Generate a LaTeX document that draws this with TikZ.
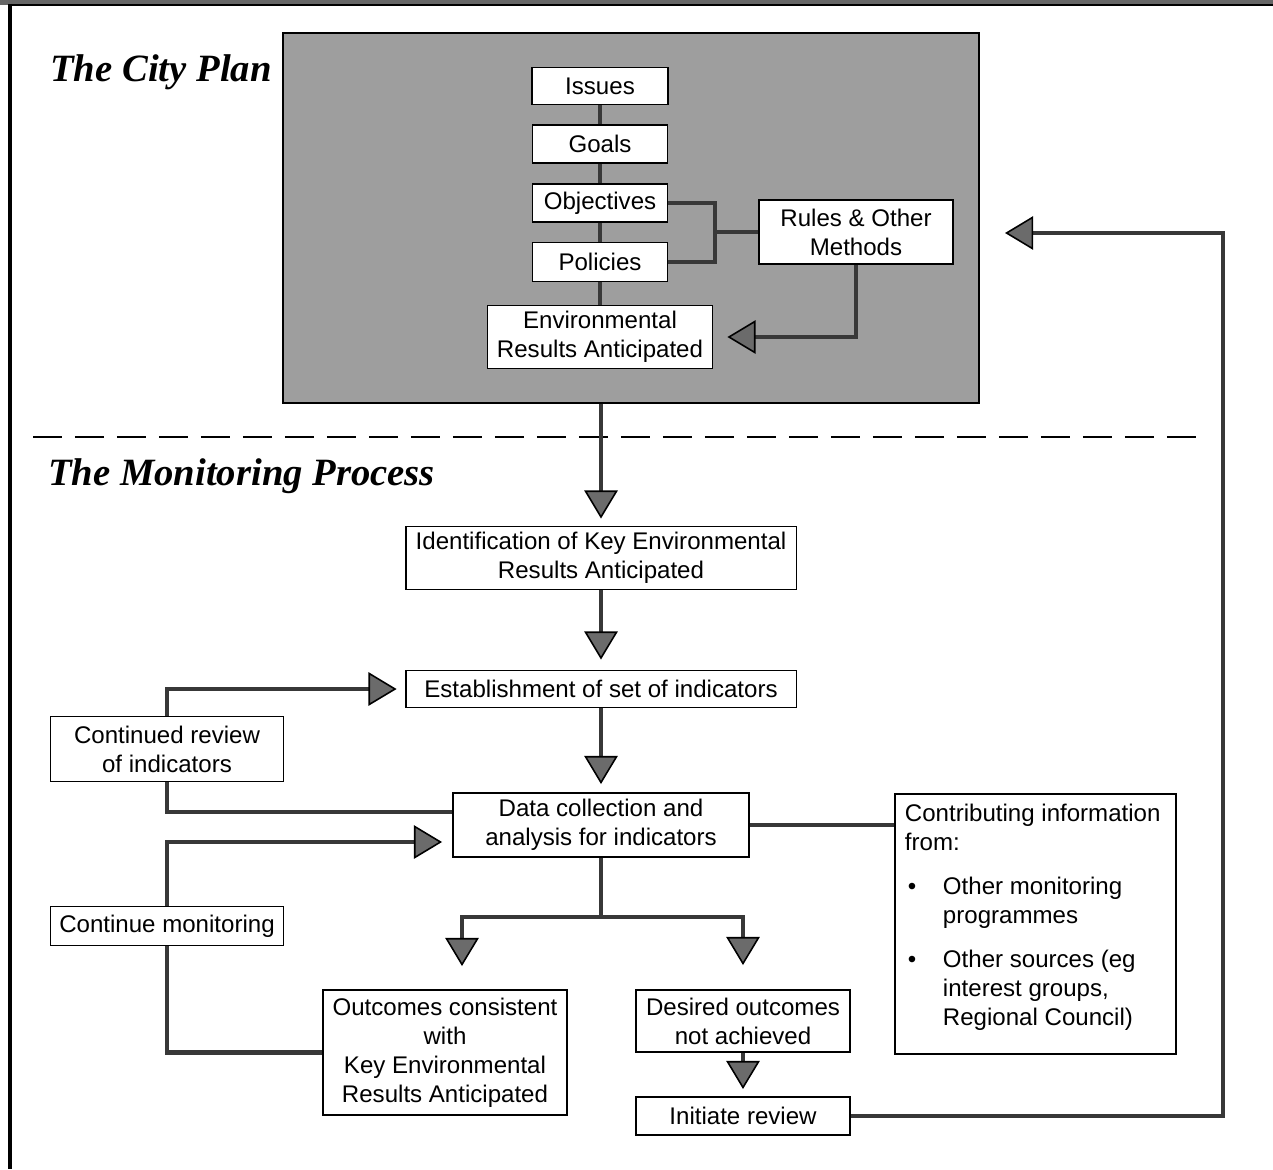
\documentclass[tikz,border=0pt]{standalone}
\usepackage{fontspec}
\setmainfont{Liberation Sans}
\newfontfamily\titlefont{Liberation Serif}
\usepackage{tikz}
\usetikzlibrary{arrows.meta,positioning}

\tikzset{
  box/.style={draw, fill=white, line width=1.1pt, align=center, inner sep=0pt,
    font=\fontsize{13.7}{16.5}\selectfont},
  link/.style={draw=black!78, line width=2.8pt},
  flow/.style={link, -{Triangle[length=16pt,width=19pt,color=black,fill=black!58,line width=0.9pt]}},
  heading/.style={anchor=base west, inner sep=0pt,
    font=\titlefont\bfseries\itshape\fontsize{22}{26}\selectfont}
}

\begin{document}
\begin{tikzpicture}[x=0.02cm,y=-0.02cm]
\useasboundingbox (0,0) rectangle (1273,1169);
\fill [white] (0,0) rectangle (1273,1169);
\fill [black!60] (0,0) rectangle (1273,5);
\draw [line width=1pt] (10,5) -- (1273,5);
\draw [line width=2.3pt] (10,4) -- (10,1169);

\node (plan) at (631,218) [draw, fill=black!38, line width=0.8pt, inner sep=0pt,
  minimum width=13.92cm, minimum height=7.4cm] {};
\node (cityplan) at (50,82) [heading] {The City Plan};
\node (monitoring) at (48,485) [heading] {The Monitoring Process};
\draw [line width=1.4pt, dash pattern=on 0.58cm off 0.26cm] (33,437) -- (1200,437);

\node (issues) at (600,86) [box, minimum width=2.72cm, minimum height=0.74cm] {Issues};
\node (goals) at (600,144) [box, minimum width=2.7cm, minimum height=0.76cm] {Goals};
\node (objectives) at (600,203) [box, minimum width=2.7cm, minimum height=0.76cm] {Objectives};
\node (policies) at (600,262) [box, minimum width=2.7cm, minimum height=0.78cm] {Policies};
\node (envres) at (600,337) [box, minimum width=4.5cm, minimum height=1.26cm] {Environmental\\Results Anticipated};
\node (rules) at (856,232) [box, minimum width=3.88cm, minimum height=1.28cm] {Rules \& Other\\Methods};
\coordinate (fork) at (715,232);

\node (ident) at (601,558) [box, minimum width=7.82cm, minimum height=1.26cm] {Identification of Key Environmental\\Results Anticipated};
\node (establish) at (601,689) [box, minimum width=7.82cm, minimum height=0.74cm] {Establishment of set of indicators};
\node (data) at (601,825) [box, minimum width=5.92cm, minimum height=1.28cm] {Data collection and\\analysis for indicators};
\node (review) at (167,749) [box, minimum width=4.66cm, minimum height=1.3cm] {Continued review\\of indicators};
\node (contmon) at (167,926) [box, minimum width=4.66cm, minimum height=0.78cm] {Continue monitoring};
\node (contrib) at (894,793) [box, anchor=north west, align=left, inner sep=0.2cm] {\parbox[c][4.8cm][t]{5.22cm}{Contributing information\\
from:\\[8.5pt]
\makebox[0.76cm][l]{\hspace{0.06cm}\textbullet}Other monitoring\\
\hspace*{0.76cm}programmes\\[8.5pt]
\makebox[0.76cm][l]{\hspace{0.06cm}\textbullet}Other sources (eg\\
\hspace*{0.76cm}interest groups,\\
\hspace*{0.76cm}Regional Council)}};
\coordinate (split) at (601,917);
\node (outcomes) at (445,1052.5) [box, minimum width=4.88cm, minimum height=2.5cm] {Outcomes consistent\\with\\Key Environmental\\Results Anticipated};
\node (desired) at (743,1021) [box, minimum width=4.28cm, minimum height=1.24cm] {Desired outcomes\\not achieved};
\node (initiate) at (743,1116) [box, minimum width=4.28cm, minimum height=0.76cm] {Initiate review};
\coordinate (rail) at (1223,233);
\coordinate (ret) at (1005,233);

\draw [link] (issues.south) -- (goals.north);
\draw [link] (goals.south) -- (objectives.north);
\draw [link] (objectives.south) -- (policies.north);
\draw [link] (policies.south) -- (envres.north);
\draw [link] (objectives.east) -| (fork) |- (policies.east);
\draw [link] (fork) -- (rules.west);
\draw [flow] (rules.south) |- ([xshift=0.28cm]envres.east);

\draw [flow] (plan.south -| ident.north) -- ([yshift=0.14cm]ident.north);
\draw [flow] (ident.south) -- ([yshift=0.2cm]establish.north);
\draw [flow] (establish.south) -- ([yshift=0.16cm]data.north);
\draw [flow] (review.north) |- ([xshift=-0.16cm]establish.west);
\draw [link] (review.south) |- ([yshift=0.26cm]data.west);
\draw [flow] (contmon.north) |- ([xshift=-0.2cm,yshift=-0.34cm]data.west);
\draw [link] (contmon.south) |- (outcomes.west);
\draw [link] (data.east) -- (data.east -| contrib.west);
\draw [link] (data.south) -- (split);
\draw [flow] (split) -| ([xshift=0.34cm,yshift=0.46cm]outcomes.north);
\draw [flow] (split) -| ([yshift=0.48cm]desired.north);
\draw [flow] (desired.south) -- ([yshift=0.14cm]initiate.north);
\draw [flow] (initiate.east) -| (rail) -- (ret);
\end{tikzpicture}
\end{document}
